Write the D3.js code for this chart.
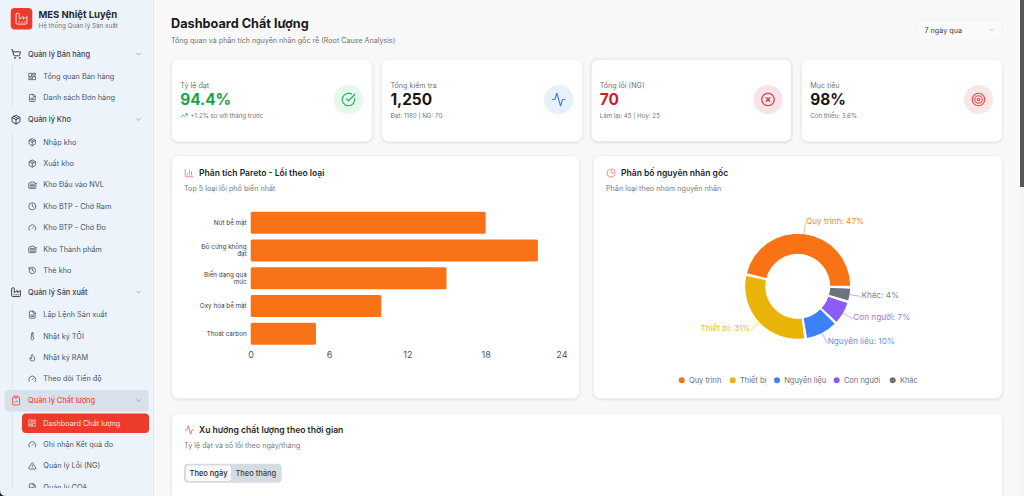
<!DOCTYPE html>
<html>
<head>
<meta charset="utf-8">
<script src="https://cdn.jsdelivr.net/npm/d3@7"></script>
<style>
  html, body { margin: 0; padding: 0; overflow: hidden; background: #f8f8f8; }
  svg { display: block; font-family: Inter, "Noto Sans", sans-serif; }
  .card { fill: #fff; stroke: #f0f0f0; filter: drop-shadow(0 1px 1px rgba(0,0,0,.10)); }
</style>
</head>
<body>
<script>
// chart values
var paretoCategories = [["Nứt bề mặt"], ["Độ cứng không", "đạt"], ["Biến dạng quá", "mức"], ["Oxy hóa bề mặt"], ["Thoát carbon"]];
var paretoValues = [18, 22, 15, 10, 5];
var paretoTicks = [0, 6, 12, 18, 24];

var causeNames = ["Quy trình", "Thiết bị", "Nguyên liệu", "Con người", "Khác"];
var causeValues = [47, 31, 10, 7, 4];

var kpiLabels = ["Tỷ lệ đạt", "Tổng kiểm tra", "Tổng lỗi (NG)", "Mục tiêu"];
var kpiValues = ["94.4%", "1,250", "70", "98%"];
var kpiNotes = ["+1.2% so với tháng trước", "Đạt: 1180 | NG: 70", "Làm lại: 45 | Hủy: 25", "Còn thiếu: 3.6%"];

// sidebar rows: [label, icon, is section]
var menuRows = [
    ["Quản lý Bán hàng", "cart", 1], ["Tổng quan Bán hàng", "dash", 0], ["Danh sách Đơn hàng", "file", 0],
    ["Quản lý Kho", "pack", 1], ["Nhập kho", "pack", 0], ["Xuất kho", "pack", 0], ["Kho Đầu vào NVL", "ware", 0],
    ["Kho BTP - Chờ Ram", "clock", 0], ["Kho BTP - Chờ Đo", "gauge", 0], ["Kho Thành phẩm", "ware", 0], ["Thẻ kho", "hist", 0],
    ["Quản lý Sản xuất", "fact", 1], ["Lập Lệnh Sản xuất", "file", 0], ["Nhật ký TÔI", "therm", 0], ["Nhật ký RAM", "flame", 0], ["Theo dõi Tiến độ", "gauge", 0],
    ["Quản lý Chất lượng", "clip", 1], ["Dashboard Chất lượng", "dash", 0], ["Ghi nhận Kết quả đo", "gauge", 0], ["Quản lý Lỗi (NG)", "warn", 0], ["Quản lý COA", "file", 0]
];

var icons = {
    cart: "M9 21a1 1 0 1 0 0-.01M20 21a1 1 0 1 0 0-.01M2.05 2.05h2l2.66 12.42a2 2 0 0 0 2 1.58h9.78a2 2 0 0 0 1.95-1.57l1.65-7.43H5.12",
    dash: "M3 3h7v9H3zM14 3h7v5h-7zM14 12h7v9h-7zM3 16h7v5H3z",
    file: "M15 2H6a2 2 0 0 0-2 2v16a2 2 0 0 0 2 2h12a2 2 0 0 0 2-2V7ZM14 2v4a2 2 0 0 0 2 2h4M16 13H8M16 17H8",
    pack: "M7.5 4.27l9 5.15M21 8a2 2 0 0 0-1-1.73l-7-4a2 2 0 0 0-2 0l-7 4A2 2 0 0 0 3 8v8a2 2 0 0 0 1 1.73l7 4a2 2 0 0 0 2 0l7-4A2 2 0 0 0 21 16ZM3.3 7l8.7 5 8.7-5M12 22V12",
    ware: "M22 8.35V20a2 2 0 0 1-2 2H4a2 2 0 0 1-2-2V8.35A2 2 0 0 1 3.26 6.5l8-3.2a2 2 0 0 1 1.48 0l8 3.2A2 2 0 0 1 22 8.35ZM6 18h12M6 14h12M6 10h12",
    clock: "M22 12a10 10 0 1 1-20 0a10 10 0 1 1 20 0M12 6v6l4 2",
    gauge: "M12 14l4-4M3.34 19a10 10 0 1 1 17.32 0",
    hist: "M3 12a9 9 0 1 0 9-9 9.75 9.75 0 0 0-6.74 2.74L3 8M3 3v5h5M12 7v5l4 2",
    fact: "M2 20a2 2 0 0 0 2 2h16a2 2 0 0 0 2-2V8l-7 5V8l-7 5V4a2 2 0 0 0-2-2H4a2 2 0 0 0-2 2ZM17 18h1M12 18h1M7 18h1",
    therm: "M14 4v10.54a4 4 0 1 1-4 0V4a2 2 0 0 1 4 0Z",
    flame: "M8.5 14.5A2.5 2.5 0 0 0 11 12c0-1.38-.5-2-1-3-1.072-2.143-.224-4.054 2-6 .5 2.5 2 4.9 4 6.5 2 1.6 3 3.5 3 5.5a7 7 0 1 1-14 0c0-1.153.433-2.294 1-3a2.5 2.5 0 0 0 2.5 2.5z",
    clip: "M9 2h6a1 1 0 0 1 1 1v2a1 1 0 0 1-1 1H9a1 1 0 0 1-1-1V3a1 1 0 0 1 1-1M16 4h2a2 2 0 0 1 2 2v14a2 2 0 0 1-2 2H6a2 2 0 0 1-2-2V6a2 2 0 0 1 2-2h2M9 14l2 2 4-4",
    warn: "M21.73 18l-8-14a2 2 0 0 0-3.48 0l-8 14A2 2 0 0 0 4 21h16a2 2 0 0 0 1.73-3M12 9v4M12 17h.01",
    chev: "M6 9l6 6 6-6",
    check: "M21.8 10A10 10 0 1 1 17 3.33M9 11l3 3L22 4",
    activity: "M22 12h-2.48a2 2 0 0 0-1.93 1.46l-2.35 8.36a.25.25 0 0 1-.48 0L9.24 2.18a.25.25 0 0 0-.48 0l-2.35 8.36A2 2 0 0 1 4.49 12H2",
    xcircle: "M22 12a10 10 0 1 1-20 0a10 10 0 1 1 20 0M15 9l-6 6M9 9l6 6",
    target: "M22 12a10 10 0 1 1-20 0a10 10 0 1 1 20 0M18 12a6 6 0 1 1-12 0a6 6 0 1 1 12 0M14 12a2 2 0 1 1-4 0a2 2 0 1 1 4 0",
    trend: "M22 7l-8.5 8.5-5-5L2 17M16 7h6v6",
    bars: "M3 3v16a2 2 0 0 0 2 2h16M18 17V9M13 17V5M8 17v-3",
    pie: "M21 12c.552 0 1.005-.449.95-.998a10 10 0 0 0-8.953-8.951c-.55-.055-.998.398-.998.95v8a1 1 0 0 0 1 1zM21.21 15.89A10 10 0 1 1 8 2.83"
};

function run_d3 () {

    var width = 1024, height = 496;

    var svg = d3.select("body").append("svg")
        .attr("width", width)
        .attr("height", height);

    var defs = svg.append("defs");
    defs.append("clipPath").attr("id", "menuClip")
        .append("rect").attr("x", 0).attr("y", 0).attr("width", 153).attr("height", 488);

    // small helpers for text and lucide icons
    function label(parent, x, y, str, size, color, weight, anchor) {
        return parent.append("text")
            .attr("x", x).attr("y", y)
            .attr("dy", "0.35em")
            .attr("font-size", size)
            .attr("font-weight", weight || 400)
            .attr("fill", color)
            .attr("text-anchor", anchor || "start")
            .text(str);
    }

    function icon(parent, name, cx, cy, size, color, sw) {
        parent.append("path")
            .attr("d", icons[name])
            .attr("transform", "translate(" + (cx - size / 2) + "," + (cy - size / 2) + ") scale(" + size / 24 + ")")
            .attr("fill", "none")
            .attr("stroke", color)
            .attr("stroke-width", sw || 2)
            .attr("stroke-linecap", "round")
            .attr("stroke-linejoin", "round");
    }

    function card(x, y, w, h, stroke) {
        var r = svg.append("rect").attr("class", "card")
            .attr("x", x).attr("y", y).attr("width", w).attr("height", h).attr("rx", 7);
        if (stroke) r.style("stroke", stroke);
    }

    // ---- sidebar ----
    svg.append("rect").attr("width", 153).attr("height", height).attr("fill", "#edf3fa");
    svg.append("rect").attr("x", 153).attr("width", 1).attr("height", height).attr("fill", "#e2e8f0");

    svg.append("rect").attr("x", 10.7).attr("y", 8).attr("width", 21.6).attr("height", 21.5).attr("rx", 4).attr("fill", "#ea3b2b");
    icon(svg, "fact", 21.5, 18.7, 13, "#fde8e4", 1.8);
    label(svg, 38.5, 14.3, "MES Nhiệt Luyện", 9.5, "#1f2937", 700);
    label(svg, 38.5, 25.8, "Hệ thống Quản lý Sản xuất", 6.3, "#6b7280");

    var menu = svg.append("g").attr("clip-path", "url(#menuClip)");
    var rowY = 54;
    var rows = menuRows.map(function(d, i) {
        if (i > 0) {
            var prev = menuRows[i - 1];
            rowY += prev[2] ? 22.5 : (d[2] ? 21.7 : 21.4);
        }
        return { name: d[0], icon: d[1], section: d[2], y: rowY };
    });

    // tree guide lines under each section
    var sectionIdx = rows.map(function(d, i) { return d.section ? i : -1; }).filter(function(i) { return i >= 0; });
    sectionIdx.forEach(function(s, k) {
        var end = k < sectionIdx.length - 1 ? rows[sectionIdx[k + 1] - 1].y + 10 : 488;
        menu.append("line").attr("x1", 12.5).attr("x2", 12.5)
            .attr("y1", rows[s].y + 11).attr("y2", end)
            .attr("stroke", "#e0e6ee").attr("stroke-width", 1);
    });

    rows.forEach(function(d) {
        var active = d.name === "Quản lý Chất lượng";
        var current = d.name === "Dashboard Chất lượng";
        if (active) {
            menu.append("rect").attr("x", 4.7).attr("y", d.y - 10.6).attr("width", 144).attr("height", 21.4).attr("rx", 4).attr("fill", "#d8e0ea");
        }
        if (current) {
            menu.append("rect").attr("x", 22).attr("y", d.y - 9.6).attr("width", 127).attr("height", 19.4).attr("rx", 4).attr("fill", "#ea3b2b");
        }
        if (d.section) {
            var col = active ? "#e2504a" : "#374151";
            icon(menu, d.icon, 16, d.y, 10.5, active ? "#e2504a" : "#1f2937", 2);
            label(menu, 28, d.y, d.name, 7.4, col, 500);
            icon(menu, "chev", 138.5, d.y, 7, active ? "#e2504a" : "#64748b", 2);
        } else {
            var col2 = current ? "#fde8e4" : "#475569";
            icon(menu, d.icon, 32.3, d.y, 8.5, current ? "#fde8e4" : "#374151", 2);
            label(menu, 43.3, d.y, d.name, 7.3, col2, 400);
        }
    });
    svg.append("path").attr("d", "M0 490Q0 496 6 496H0Z").attr("fill", "#222");

    // ---- page header ----
    label(svg, 171, 24, "Dashboard Chất lượng", 12.7, "#1a1a1a", 700);
    label(svg, 171, 40, "Tổng quan và phân tích nguyên nhân gốc rễ (Root Cause Analysis)", 7.15, "#737373");

    svg.append("rect").attr("x", 917).attr("y", 20).attr("width", 85.5).attr("height", 20).attr("rx", 4)
        .attr("fill", "#fafafa").attr("stroke", "#f2f2f2");
    label(svg, 924.5, 30.3, "7 ngày qua", 7.2, "#404040");
    icon(svg, "chev", 991.5, 30, 7, "#a3a3a3", 2);

    // ---- kpi cards ----
    var kpiLeft = [171.5, 381.7, 591, 801.5];
    var kpiValueColors = ["#16a34a", "#171717", "#c81e2d", "#171717"];
    var kpiIcons = ["check", "activity", "xcircle", "target"];
    var kpiIconColors = ["#22b35e", "#3b7de0", "#c8323f", "#e2504a"];
    var kpiIconBacks = ["#e6f7ec", "#e8f0fb", "#f8e4e7", "#fae6e6"];

    kpiLabels.forEach(function(d, i) {
        var x = kpiLeft[i];
        card(x, 59, 200.7, 82.7, i === 2 ? "#f0dfe2" : null);
        label(svg, x + 8.7, 85, d, 7.2, "#737373");
        label(svg, x + 8.7, 99.3, kpiValues[i], 15.4, kpiValueColors[i], 700);
        if (i === 0) {
            icon(svg, "trend", x + 12.5, 115.5, 8, "#22a35a", 2);
            label(svg, x + 19, 115.7, kpiNotes[i], 6.2, "#737373");
        } else {
            label(svg, x + 8.7, 115.7, kpiNotes[i], 6.2, "#737373");
        }
        svg.append("circle").attr("cx", x + 177).attr("cy", 99.5).attr("r", 14.6).attr("fill", kpiIconBacks[i]);
        icon(svg, kpiIcons[i], x + 177, 99.5, 15, kpiIconColors[i], 1.9);
    });

    // ---- pareto card ----
    card(171.5, 155.5, 408, 243);
    icon(svg, "bars", 189, 173, 10, "#e2504a", 1.6);
    label(svg, 199, 173, "Phân tích Pareto - Lỗi theo loại", 8.55, "#1f1f1f", 600);
    label(svg, 184, 188.5, "Top 5 loại lỗi phổ biến nhất", 7.2, "#7a7a7a");

    var x = d3.scaleLinear().domain([0, 24]).range([250.7, 564]);
    var y = d3.scaleBand().domain(d3.range(paretoValues.length)).range([208.9, 347.6]).paddingInner(0.2).paddingOuter(0.1);

    svg.append("g").selectAll("rect")
        .data(paretoValues)
        .enter()
        .append("rect")
        .attr("x", x(0))
        .attr("y", function(d, i) { return y(i); })
        .attr("width", function(d) { return x(d) - x(0); })
        .attr("height", y.bandwidth())
        .attr("rx", 1.5)
        .attr("fill", "#f97316");

    var catAxis = svg.append("g").selectAll("text")
        .data(paretoCategories)
        .enter()
        .append("text")
        .attr("text-anchor", "end")
        .attr("font-size", 6.3)
        .attr("fill", "#404040")
        .attr("y", function(d, i) { return y(i) + y.bandwidth() / 2; });
    catAxis.each(function(d) {
        var t = d3.select(this);
        d.forEach(function(line, k) {
            t.append("tspan")
                .attr("x", 246.7)
                .attr("dy", k === 0 ? (d.length === 1 ? "0.35em" : "-0.2em") : "1.08em")
                .text(line);
        });
    });

    var xAxis = d3.axisBottom(x).tickValues(paretoTicks).tickSize(0).tickPadding(0);
    var xg = svg.append("g").attr("transform", "translate(0,355)").call(xAxis);
    xg.select(".domain").remove();
    xg.selectAll("text")
        .attr("y", 0)
        .attr("dy", "0.35em")
        .attr("font-family", "Inter")
        .attr("font-size", 9)
        .attr("fill", "#525252")
        .attr("text-anchor", function(d) { return d === 24 ? "end" : "middle"; })
        .attr("dx", function(d) { return d === 24 ? 3 : 0; });

    // ---- root cause card ----
    card(593.3, 155.5, 409, 243);
    icon(svg, "pie", 611.2, 173, 10, "#e2504a", 1.6);
    label(svg, 621, 173, "Phân bố nguyên nhân gốc", 8.55, "#1f1f1f", 600);
    label(svg, 606, 188.5, "Phân loại theo nhóm nguyên nhân", 7.2, "#7a7a7a");

    var color = d3.scaleOrdinal().domain(causeNames).range(["#f97316", "#eab308", "#3b82f6", "#8b5cf6", "#6b7280"]);
    var cx = 797.7, cy = 286.3, outer = 53, inner = 32;
    var padA = 2 * Math.PI / 180;

    // counter clockwise from 3 o'clock
    var pie = d3.pie().sort(null)
        .startAngle(Math.PI / 2)
        .endAngle(Math.PI / 2 - 2 * Math.PI)
        .padAngle(padA);
    var arcs = pie(causeValues);
    var arc = d3.arc().innerRadius(inner).outerRadius(outer);

    var donut = svg.append("g").attr("transform", "translate(" + cx + "," + cy + ")");

    donut.selectAll("path")
        .data(arcs)
        .enter()
        .append("path")
        .attr("fill", function(d, i) { return color(causeNames[i]); })
        .attr("stroke", "#fff")
        .attr("stroke-width", 1)
        .attr("d", function(d) {
            return arc({ startAngle: d.startAngle, endAngle: d.endAngle + padA });
        });

    arcs.forEach(function(d, i) {
        var mid = (d.startAngle + d.endAngle + padA) / 2;
        var p0 = [Math.sin(mid) * outer, -Math.cos(mid) * outer];
        var p1 = [Math.sin(mid) * (outer + 11), -Math.cos(mid) * (outer + 11)];
        donut.append("line")
            .attr("x1", p0[0]).attr("y1", p0[1]).attr("x2", p1[0]).attr("y2", p1[1])
            .attr("stroke", color(causeNames[i])).attr("stroke-opacity", 0.7).attr("stroke-width", 0.7);
        label(donut, p1[0] + (p1[0] > 0 ? 0.5 : -0.5), p1[1] - 1.6, causeNames[i] + ": " + causeValues[i] + "%", 8.2,
            color(causeNames[i]), 400, p1[0] > 0 ? "start" : "end")
            .attr("fill-opacity", 0.9);
    });

    var legendDots = [681.7, 732.7, 777, 836.7, 892.7];
    causeNames.forEach(function(d, i) {
        svg.append("circle").attr("cx", legendDots[i]).attr("cy", 380.3).attr("r", 3).attr("fill", color(d));
        label(svg, legendDots[i] + 7.2, 380.3, d, 7.5, "#6b7280");
    });

    // ---- trend card (cut by the window) ----
    card(171.5, 413, 831, 120);
    icon(svg, "activity", 189.5, 430, 10, "#e2504a", 1.8);
    label(svg, 199, 430, "Xu hướng chất lượng theo thời gian", 8.6, "#1f1f1f", 600);
    label(svg, 184, 445.3, "Tỷ lệ đạt và số lỗi theo ngày/tháng", 7.2, "#7a7a7a");
    svg.append("rect").attr("x", 184).attr("y", 463.7).attr("width", 97.7).attr("height", 19).attr("rx", 4).attr("fill", "#d6dae1");
    svg.append("rect").attr("x", 186).attr("y", 465.5).attr("width", 45).attr("height", 15.5).attr("rx", 3).attr("fill", "#f9fafb");
    label(svg, 208.5, 473.3, "Theo ngày", 7.5, "#27272a", 500, "middle");
    label(svg, 255.8, 473.3, "Theo tháng", 7.5, "#3f3f46", 500, "middle");

    // ---- window scrollbar ----
    svg.append("rect").attr("x", 1020).attr("width", 4).attr("height", height).attr("fill", "#f4f4f5");
    svg.append("rect").attr("x", 1020).attr("width", 4).attr("height", 187).attr("fill", "#555");
}

window.onload = run_d3;
</script>
</body>
</html>
